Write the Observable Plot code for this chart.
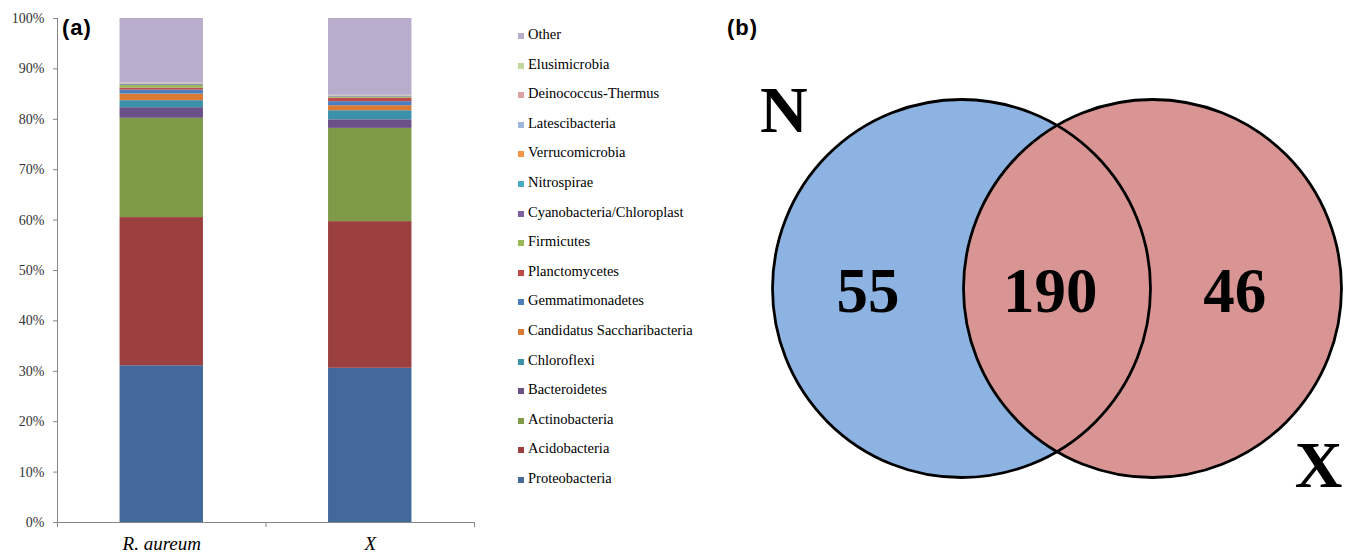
<!DOCTYPE html>
<html>
<head>
<meta charset="utf-8">
<script src="https://cdn.jsdelivr.net/npm/d3@7"></script>
<script src="https://cdn.jsdelivr.net/npm/@observablehq/plot@0.6"></script>
<style>
  html, body { margin: 0; padding: 0; background: #fff; }
  #wrap { position: relative; width: 1350px; height: 553px; overflow: hidden; font-family: "Liberation Serif", "Times New Roman", serif; }
  #chartA { position: absolute; left: 0; top: 0; }
  #chartB { position: absolute; left: 700px; top: 0; }
  .panel { position: absolute; font-family: "Liberation Sans", Arial, sans-serif; font-weight: bold; font-size: 22px; letter-spacing: 1px; color: #000; line-height: 1; }
  #legend { position: absolute; left: 518px; top: 0; }
  .item { position: absolute; left: 0; white-space: nowrap; font-size: 14.5px; color: #000; line-height: 1; }
  .sw { display: inline-block; width: 6px; height: 6px; margin-right: 4px; vertical-align: baseline; }
  svg { overflow: visible; }
</style>
</head>
<body>
<div id="wrap">
  <div id="chartA"></div>
  <div id="legend"></div>
  <div id="chartB"></div>
  <div class="panel" style="left:62px; top:17px;">(a)</div>
  <div class="panel" style="left:727px; top:17px;">(b)</div>
</div>
<script>
// ---------- Panel (a) data ----------
const samples = ["R. aureum", "X"];
const taxa = ["Proteobacteria", "Acidobacteria", "Actinobacteria", "Bacteroidetes", "Chloroflexi",
  "Candidatus Saccharibacteria", "Gemmatimonadetes", "Planctomycetes", "Firmicutes",
  "Cyanobacteria/Chloroplast", "Nitrospirae", "Verrucomicrobia", "Latescibacteria",
  "Deinococcus-Thermus", "Elusimicrobia", "Other"];
const valuesRAureum = [31.1, 29.4, 19.7, 2.1, 1.4, 1.3, 0.8, 0.4, 0.5, 0.15, 0.1, 0.1, 0.05, 0.05, 0.05, 12.8];
const valuesX = [30.6, 29.1, 18.5, 1.7, 1.8, 1.0, 0.8, 0.7, 0.2, 0.1, 0.05, 0.05, 0.05, 0.05, 0.05, 15.25];
const taxonColors = ["#43689B", "#9C403F", "#7F9B48", "#6A5087", "#3C91AA", "#DA7A35",
  "#4A7EBF", "#BE4B48", "#98B954", "#7D60A0", "#46AAC5", "#F69545", "#9DB7DA",
  "#DBA3A2", "#C3D69B", "#B8ADCA"];
const yTicks = [0, 10, 20, 30, 40, 50, 60, 70, 80, 90, 100];

// ---------- Panel (b) data ----------
const vennSets = ["N", "X"];
const vennColors = ["#8DB3E2", "#D99594"];
const regionNames = ["N only", "N and X", "X only"];
const regionCounts = [55, 190, 46];

// Build stacked table
const seriesValues = [valuesRAureum, valuesX];
const rows = [];
samples.forEach((s, i) => {
  let acc = 0;
  taxa.forEach((t, k) => {
    const v = seriesValues[i][k];
    rows.push({sample: s, i, taxon: t, y1: acc, y2: acc + v});
    acc += v;
  });
});

const half = 0.2; // bar half-width in band units
const axisGray = "#868686";

const chartA = Plot.plot({
  width: 500, height: 553,
  marginLeft: 57, marginRight: 26, marginTop: 18, marginBottom: 31,
  style: {fontFamily: "Liberation Serif, Times New Roman, serif", fontSize: "14px", color: "#000", background: "transparent"},
  x: {type: "linear", domain: [0, samples.length]},
  y: {domain: [0, 100]},
  color: {domain: taxa, range: taxonColors},
  marks: [
    Plot.rectY(rows, {x1: d => d.i + 0.5 - half, x2: d => d.i + 0.5 + half, y1: "y1", y2: "y2", fill: "taxon"}),
    Plot.ruleX([0], {stroke: axisGray}),
    Plot.ruleY([0], {stroke: axisGray}),
    Plot.axisY({ticks: yTicks, tickFormat: d => d + "%", tickSize: 4, tickPadding: 9, stroke: axisGray, fill: "#333", fontSize: 14}),
    Plot.axisX({ticks: d3.range(samples.length + 1), tickFormat: () => "", tickSize: 5, stroke: axisGray}),
    Plot.axisX({ticks: samples.map((s, i) => i + 0.5), tickFormat: v => samples[Math.floor(v)], tickSize: 0, tickPadding: 14, fontSize: 19, fontStyle: "italic", fill: "#000"})
  ]
});
document.getElementById("chartA").appendChild(chartA);

// Legend (HTML), reverse order like the reference
const legend = document.getElementById("legend");
const legendOrder = taxa.map((t, k) => k).reverse();
legendOrder.forEach((k, row) => {
  const div = document.createElement("div");
  div.className = "item";
  div.style.top = (27 + row * 29.6) + "px";
  div.innerHTML = `<span class="sw" style="background:${taxonColors[k]}"></span>${taxa[k]}`;
  legend.appendChild(div);
});

// ---------- Venn ----------
const sets = vennSets.map((name, i) => ({name, i, color: vennColors[i]}));
const regions = regionNames.map((name, k) => ({
  name, count: regionCounts[k],
  x: k === 0 ? -0.49 : k === 1 ? 0.465 : 1.43
}));
const setLabels = [
  {name: vennSets[0], x: -0.93, y: 0.93},
  {name: vennSets[1], x: 1.87, y: -0.93}
];

const chartB = Plot.plot({
  width: 650, height: 553,
  marginLeft: 261, marginRight: 198, marginTop: 97, marginBottom: 74,
  style: {fontFamily: "Liberation Serif, Times New Roman, serif", background: "transparent"},
  x: {domain: [0, 1], axis: null},
  y: {domain: [-1, 1], axis: null},
  marks: [
    Plot.dot([sets[0]], {x: "i", y: () => 0, r: 189, fill: vennColors[0], stroke: "none"}),
    Plot.dot([sets[1]], {x: "i", y: () => 0, r: 189, fill: vennColors[1], stroke: "none"}),
    Plot.dot(sets, {x: "i", y: () => 0, r: 189, fill: "none", stroke: "#000", strokeWidth: 2.8}),
    Plot.text(regions, {x: "x", y: () => 0, text: d => String(d.count), fontSize: 63, fontWeight: "bold", fill: "#000", dy: 3}),
    Plot.text(setLabels, {x: "x", y: "y", text: "name", fontSize: 66, fontWeight: "bold", fill: "#000"})
  ]
});
document.getElementById("chartB").appendChild(chartB);
</script>
</body>
</html>
